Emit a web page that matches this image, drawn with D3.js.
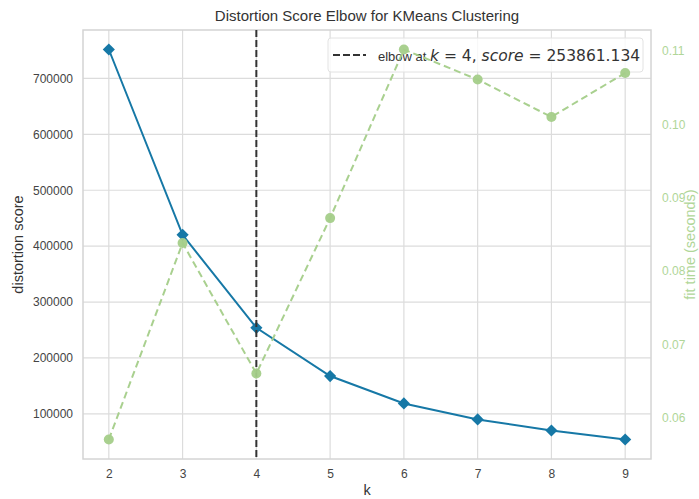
<!DOCTYPE html>
<html>
<head>
<meta charset="utf-8">
<script src="https://cdn.jsdelivr.net/npm/d3@7"></script>
<style>
  body { margin: 0; background: #fff; }
  text { font-family: "Liberation Sans", Arial, sans-serif; }
</style>
</head>
<body>
<div id="chart"></div>
<script>
const frame_width = 699;
const frame_height = 499;
const margins = {left: 83, right: 48, top: 30, bottom: 40};

// values
const k_values = [2, 3, 4, 5, 6, 7, 8, 9];
const distortion = [751800, 420200, 253861.134, 167600, 118600, 90000, 70200, 54100];
const fit_time = [0.0570, 0.0838, 0.0660, 0.0872, 0.1102, 0.1061, 0.1010, 0.1070];
const left_ticks = [100000, 200000, 300000, 400000, 500000, 600000, 700000];
const right_ticks = [0.06, 0.07, 0.08, 0.09, 0.10, 0.11];
const elbow_k = 4;
const elbow_score = 253861.134;

const BLUE = "#1678a6";
const GREEN = "#a4ce89";
const GREEN_TEXT = "#b0d698";

const svg = d3.select("#chart")
    .append("svg")
        .attr("width", frame_width)
        .attr("height", frame_height);

const x0 = margins.left, x1 = frame_width - margins.right;
const y0 = frame_height - margins.bottom, y1 = margins.top;

// matplotlib style 5% padding
function padded(vals) {
    let lo = d3.min(vals), hi = d3.max(vals), m = (hi - lo) * 0.05;
    return [lo - m, hi + m];
}

const X_SCALE = d3.scaleLinear().domain(padded(k_values)).range([x0, x1]);
const Y_SCALE = d3.scaleLinear().domain(padded(distortion)).range([y0, y1]);
const Y2_SCALE = d3.scaleLinear().domain(padded(fit_time)).range([y0, y1]);

// grid
svg.append("g")
    .selectAll("line")
    .data(k_values)
    .enter()
    .append("line")
        .attr("x1", d => X_SCALE(d)).attr("x2", d => X_SCALE(d))
        .attr("y1", y1).attr("y2", y0)
        .attr("stroke", "#dcdcdc").attr("stroke-width", 1.2);

svg.append("g")
    .selectAll("line")
    .data(left_ticks)
    .enter()
    .append("line")
        .attr("x1", x0).attr("x2", x1)
        .attr("y1", d => Y_SCALE(d)).attr("y2", d => Y_SCALE(d))
        .attr("stroke", "#dcdcdc").attr("stroke-width", 1.2);

// frame
svg.append("rect")
    .attr("x", x0).attr("y", y1)
    .attr("width", x1 - x0).attr("height", y0 - y1)
    .attr("fill", "none")
    .attr("stroke", "#d4d4d4")
    .attr("stroke-width", 1.5);

// axes
const xAxis = svg.append("g")
    .attr("transform", "translate(0," + y0 + ")")
    .call(d3.axisBottom(X_SCALE).tickValues(k_values).tickSize(0).tickPadding(10).tickFormat(d3.format("d")));

const yAxis = svg.append("g")
    .attr("transform", "translate(" + x0 + ",0)")
    .call(d3.axisLeft(Y_SCALE).tickValues(left_ticks).tickSize(0).tickPadding(10).tickFormat(d3.format("d")));

const y2Axis = svg.append("g")
    .attr("transform", "translate(" + x1 + ",0)")
    .call(d3.axisRight(Y2_SCALE).tickValues(right_ticks).tickSize(0).tickPadding(11).tickFormat(d3.format(".2f")));

[xAxis, yAxis, y2Axis].forEach(a => {
    a.select(".domain").remove();
    a.selectAll("text")
        .attr("font-family", "'Liberation Sans', Arial, sans-serif")
        .attr("font-size", "12px");
});
xAxis.selectAll("text").attr("fill", "#444");
yAxis.selectAll("text").attr("fill", "#444");
y2Axis.selectAll("text").attr("fill", GREEN_TEXT);

// distortion line
svg.append("path")
    .datum(k_values.map((k, i) => [k, distortion[i]]))
    .attr("d", d3.line().x(d => X_SCALE(d[0])).y(d => Y_SCALE(d[1])))
    .attr("fill", "none")
    .attr("stroke", BLUE)
    .attr("stroke-width", 2);

svg.append("g")
    .selectAll("path")
    .data(k_values.map((k, i) => [k, distortion[i]]))
    .enter()
    .append("path")
        .attr("d", d3.symbol().type(d3.symbolSquare).size(74))
        .attr("transform", d => "translate(" + X_SCALE(d[0]) + "," + Y_SCALE(d[1]) + ") rotate(45)")
        .attr("fill", BLUE);

// elbow line
svg.append("line")
    .attr("x1", X_SCALE(elbow_k)).attr("x2", X_SCALE(elbow_k))
    .attr("y1", y1).attr("y2", y0)
    .attr("stroke", "#333")
    .attr("stroke-width", 2)
    .attr("stroke-dasharray", "7,3");

// legend
const legend = svg.append("g");
legend.append("rect")
    .attr("x", 328).attr("y", 38)
    .attr("width", 315).attr("height", 34)
    .attr("rx", 3)
    .attr("fill", "#fff").attr("fill-opacity", 0.8)
    .attr("stroke", "#e2e2e2");
legend.append("line")
    .attr("x1", 333).attr("x2", 366)
    .attr("y1", 55).attr("y2", 55)
    .attr("stroke", "#333").attr("stroke-width", 2)
    .attr("stroke-dasharray", "7,3");
const lt = legend.append("text")
    .attr("x", 378).attr("y", 61)
    .attr("fill", "#333")
    .attr("font-size", "13px");
lt.append("tspan").text("elbow at ");
lt.append("tspan").attr("font-family", "'DejaVu Sans'").attr("font-size", "15.5px").attr("font-style", "italic").text("k");
lt.append("tspan").attr("font-family", "'DejaVu Sans'").attr("font-size", "15.5px").text(" = " + elbow_k + ", ");
lt.append("tspan").attr("font-family", "'DejaVu Sans'").attr("font-size", "15.5px").attr("font-style", "italic").text("score");
lt.append("tspan").attr("font-family", "'DejaVu Sans'").attr("font-size", "15.5px").text(" = " + elbow_score.toFixed(3));

// fit time line (twin axis, drawn on top)
svg.append("path")
    .datum(k_values.map((k, i) => [k, fit_time[i]]))
    .attr("d", d3.line().x(d => X_SCALE(d[0])).y(d => Y2_SCALE(d[1])))
    .attr("fill", "none")
    .attr("stroke", GREEN)
    .attr("stroke-opacity", 0.95)
    .attr("stroke-width", 2)
    .attr("stroke-dasharray", "7,4");

svg.append("g")
    .selectAll("circle")
    .data(k_values.map((k, i) => [k, fit_time[i]]))
    .enter()
    .append("circle")
        .attr("cx", d => X_SCALE(d[0]))
        .attr("cy", d => Y2_SCALE(d[1]))
        .attr("r", 5)
        .attr("fill", GREEN)
        .attr("fill-opacity", 0.95);

// title and labels
svg.append("text")
    .attr("x", (x0 + x1) / 2).attr("y", 21)
    .attr("text-anchor", "middle")
    .attr("font-size", "15px")
    .attr("fill", "#333")
    .text("Distortion Score Elbow for KMeans Clustering");

svg.append("text")
    .attr("x", (x0 + x1) / 2).attr("y", 495)
    .attr("text-anchor", "middle")
    .attr("font-size", "14.5px")
    .attr("fill", "#333")
    .text("k");

svg.append("text")
    .attr("transform", "translate(23," + ((y0 + y1) / 2) + ") rotate(-90)")
    .attr("text-anchor", "middle")
    .attr("font-size", "14.5px")
    .attr("fill", "#333")
    .text("distortion score");

svg.append("text")
    .attr("transform", "translate(695," + ((y0 + y1) / 2) + ") rotate(-90)")
    .attr("text-anchor", "middle")
    .attr("font-size", "14.5px")
    .attr("fill", GREEN_TEXT)
    .text("fit time (seconds)");
</script>
</body>
</html>
